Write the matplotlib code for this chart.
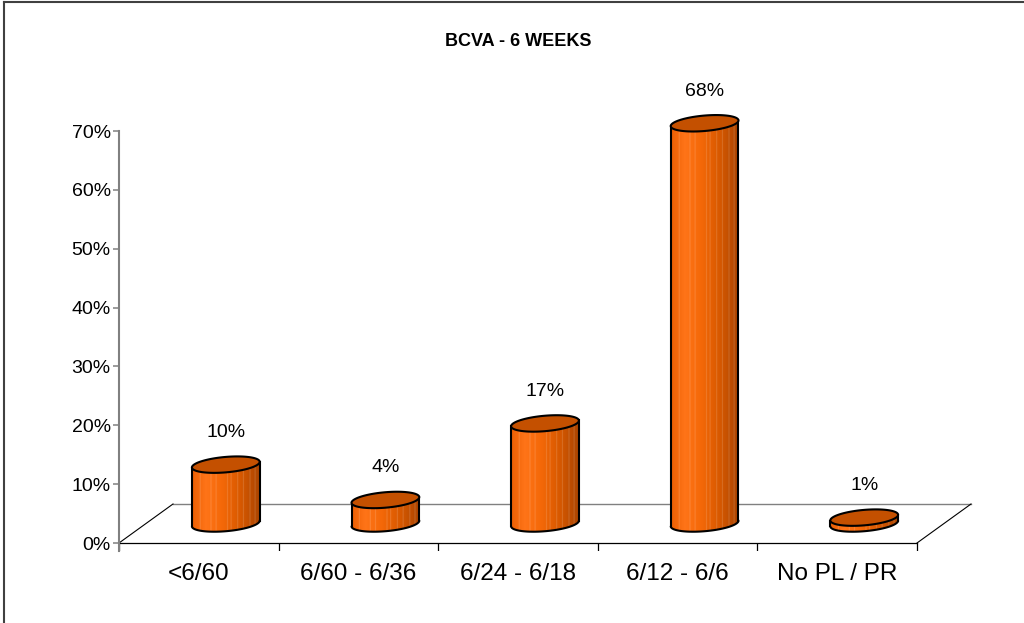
import matplotlib
matplotlib.use("Agg")
import matplotlib.pyplot as plt
import numpy as np
from matplotlib.patches import Polygon, PathPatch
from matplotlib.path import Path
from matplotlib.lines import Line2D
from matplotlib.colors import LinearSegmentedColormap, to_rgb

categories = ["<6/60", "6/60 - 6/36", "6/24 - 6/18", "6/12 - 6/6", "No PL / PR"]
values = [10, 4, 17, 68, 1]
ytick_values = [0, 10, 20, 30, 40, 50, 60, 70]
title = "BCVA - 6 WEEKS"

plt.rcParams['font.family'] = ['Liberation Sans', 'DejaVu Sans']

W, H = 1024, 623
fig = plt.figure(figsize=(W / 100, H / 100), dpi=100)

# plot area: 5 categories over 798 px, 70% over 412 px
ppx = 798 / 5.0
ppy = 412 / 70.0
ymin, ymax = -1.3, 80
xmax = 5.5
x0_px, y0_px = 119, 543
ax = fig.add_axes([x0_px / W, (H - (y0_px - ymin * ppy)) / H,
                   xmax * ppx / W, (ymax - ymin) * ppy / H])

# depth of the floor
dx = 54 / ppx
dy = 39 / ppy

floor = Polygon([(0, 0), (5, 0), (5 + dx, dy), (dx, dy)], closed=True,
                facecolor="white", edgecolor="none", zorder=0)
ax.add_patch(floor)
ax.plot([dx, 5 + dx], [dy, dy], color="#808080", lw=1.0, zorder=1)
ax.plot([0, dx], [0, dy], color="black", lw=0.8, zorder=1)
ax.plot([5, 5 + dx], [0, dy], color="black", lw=0.8, zorder=1)
ax.plot([0, 5], [0, 0], color="black", lw=0.9, zorder=1)
ax.vlines(np.arange(6), ymin, 0, color="black", lw=0.9, zorder=1)

# shading across the cylinder body
ramp = LinearSegmentedColormap.from_list("cyl", [
    (0.0, "#E85C00"), (0.22, "#FF7418"), (0.45, "#F46808"),
    (0.7, "#D85900"), (1.0, "#A64200")])
ncol = 240
frac = np.linspace(0, 1, ncol)
shade = ramp(frac)[:, :3]
for s in [0.14, 0.29, 0.36, 0.52, 0.57, 0.66, 0.74, 0.83, 0.9]:
    k = int(s * ncol)
    shade[k:k + 2] = shade[k:k + 2] * 0.75 + 0.25
shade_img = shade[np.newaxis, :, :]

top_color = "#C45000"
a_px, b_px, tilt = 34.0, 7.7, np.radians(5)


def ellipse_pts(xc, yc, t):
    ex = a_px * np.cos(t)
    ey = b_px * np.sin(t)
    rx = ex * np.cos(tilt) - ey * np.sin(tilt)
    ry = ex * np.sin(tilt) + ey * np.cos(tilt)
    return xc + rx / ppx, yc + ry / ppy


def cylinder(xc, base, h):
    top = base + h
    tl = np.linspace(np.pi, 2 * np.pi, 80)
    bx, by = ellipse_pts(xc, base, tl)
    tx, ty = ellipse_pts(xc, top, tl[::-1])
    verts = np.column_stack([np.r_[bx, tx], np.r_[by, ty]])
    verts = np.vstack([verts, verts[:1]])
    codes = [Path.MOVETO] + [Path.LINETO] * (len(verts) - 2) + [Path.CLOSEPOLY]
    body = PathPatch(Path(verts, codes), facecolor="none", edgecolor="none",
                     transform=ax.transData, zorder=2)
    ax.add_patch(body)
    ext = [xc - (a_px + 2) / ppx, xc + (a_px + 2) / ppx,
           base - (b_px + 8) / ppy, top + (b_px + 8) / ppy]
    im = ax.imshow(shade_img, extent=ext, aspect="auto", origin="lower",
                   interpolation="bilinear", zorder=2)
    im.set_clip_path(body)
    # outline of the body
    ax.plot(bx, by, color="black", lw=1.5, zorder=3, solid_capstyle="round")
    ax.plot([bx[0], tx[-1]], [by[0], ty[-1]], color="black", lw=1.5, zorder=3)
    ax.plot([bx[-1], tx[0]], [by[-1], ty[0]], color="black", lw=1.5, zorder=3)
    # top cap
    ta = np.linspace(0, 2 * np.pi, 160)
    cx, cy = ellipse_pts(xc, top, ta)
    cap = Polygon(np.column_stack([cx, cy]), closed=True, facecolor=top_color,
                  edgecolor="black", lw=1.5, zorder=4)
    ax.add_patch(cap)
    return top


for i, v in enumerate(values):
    xc = i + 0.5 + dx / 2
    top = cylinder(xc, dy / 2, v)
    ax.text(xc, top + 32 / ppy, f"{v}%", ha="center", va="center",
            fontsize=14, color="black", zorder=5)

ax.set_xlim(0, xmax)
ax.set_ylim(ymin, ymax)

for side in ["top", "right", "bottom"]:
    ax.spines[side].set_visible(False)
ax.spines["left"].set_color("#808080")
ax.spines["left"].set_linewidth(1.5)
ax.spines["left"].set_bounds(ymin, 70)

ax.set_yticks(ytick_values)
ax.set_yticklabels([f"{v}%" for v in ytick_values], fontsize=14)
ax.tick_params(axis="y", direction="out", length=4, width=1.1,
               color="#808080", pad=2)
ax.set_xticks(np.arange(5) + 0.5)
ax.set_xticklabels(categories, fontsize=17.5)
ax.tick_params(axis="x", length=0, pad=9)
ax.patch.set_alpha(0)

fig.text(518 / W, 1 - 42 / H, title, ha="center", va="center",
         fontsize=13, fontweight="bold")

# chart border
fig.add_artist(Line2D([4 / W, 4 / W], [0, 1 - 2 / H], transform=fig.transFigure,
                      color="#404040", lw=1.5))
fig.add_artist(Line2D([4 / W, 1], [1 - 2 / H, 1 - 2 / H],
                      transform=fig.transFigure, color="#404040", lw=1.5))

fig.savefig("out.png", dpi=100)
